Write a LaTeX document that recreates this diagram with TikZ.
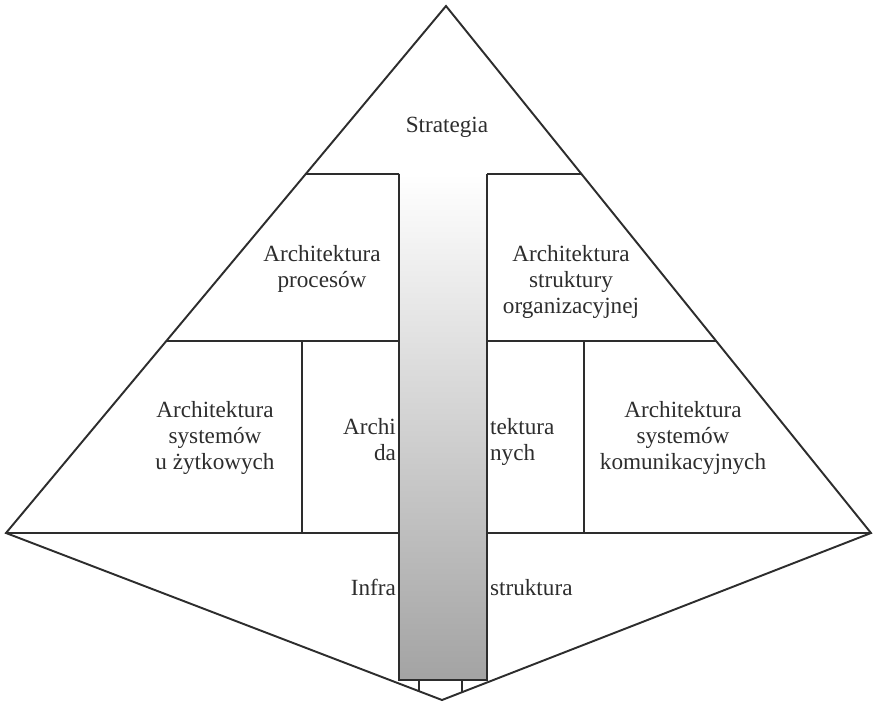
\documentclass[tikz,border=0pt]{standalone}
\usepackage{fontspec}
\setmainfont{Liberation Serif}
\usepackage{xcolor}
\definecolor{ink}{RGB}{45,45,45}
\usepackage{tikz}
\usetikzlibrary{calc}

\tikzset{
  edge/.style={ink, line width=1.1pt},
  lbl/.style={font=\fontsize{13.2}{14.8}\selectfont, align=center, inner sep=1pt, text=ink}
}

\begin{document}
\begin{tikzpicture}[x=0.02cm, y=-0.02cm]

\useasboundingbox (0,0) rectangle (873,704);

% Corners of the pyramid
\coordinate (apex) at (446,6);
\coordinate (lc) at (6,533);
\coordinate (rc) at (871,533);
\coordinate (bot) at (442,700);

% Level ends on the sloped edges
\coordinate (t1) at ($(apex)!0.3188!(lc)$);
\coordinate (t2) at ($(apex)!0.3188!(rc)$);
\coordinate (m1) at ($(apex)!0.6357!(lc)$);
\coordinate (m2) at ($(apex)!0.6357!(rc)$);

% Central column
\coordinate (stl) at (399,174);
\coordinate (str) at (487,174);
\coordinate (sbl) at (399,680);
\coordinate (sbr) at (487,680);
\shade[top color=white, middle color=black!13, bottom color=black!36] (stl) rectangle (sbr);
\draw[edge] (stl) -- (sbl) -- (sbr) -- (str);

% Outline
\draw[edge] (apex) -- (lc) -- (bot) -- (rc) -- cycle;

% Levels
\draw[edge] (t1) -- (stl);
\draw[edge] (str) -- (t2);
\draw[edge] (m1) -- (m1 -| stl);
\draw[edge] (m2 -| str) -- (m2);
\draw[edge] (lc) -- (lc -| sbl);
\draw[edge] (rc -| sbr) -- (rc);

% Dividers of the middle row
\draw[edge] (302,0 |- m1) -- (302,0 |- lc);
\draw[edge] (584,0 |- m2) -- (584,0 |- rc);

% Feet of the column
\coordinate (f1) at ($(lc)!{413/436}!(bot)$);
\coordinate (f2) at ($(rc)!{409/429}!(bot)$);
\draw[edge] (sbl -| f1) -- (f1);
\draw[edge] (sbr -| f2) -- (f2);

% Labels
\node[lbl, anchor=base] (strategia) at (447,132) {Strategia};
\node[lbl] (procesy) at (322,269) {Architektura\\procesów};
\node[lbl] (struktura) at (571,282) {Architektura\\struktury\\organizacyjnej};
\node[lbl] (uzytkowe) at (215,438) {Architektura\\systemów\\u żytkowych};
\node[lbl] (komunikacja) at (683,438) {Architektura\\systemów\\komunikacyjnych};

% Labels split by the column
\node[lbl, anchor=base east] (daneA) at (398,434) {Archi};
\node[lbl, anchor=base west] (daneB) at (488,434) {tektura};
\node[lbl, anchor=base east] (daneC) at (398,460) {da};
\node[lbl, anchor=base west] (daneD) at (488,460) {nych};
\node[lbl, anchor=base east] (infraA) at (398,595) {Infra};
\node[lbl, anchor=base west] (infraB) at (488,595) {struktura};

\end{tikzpicture}
\end{document}
